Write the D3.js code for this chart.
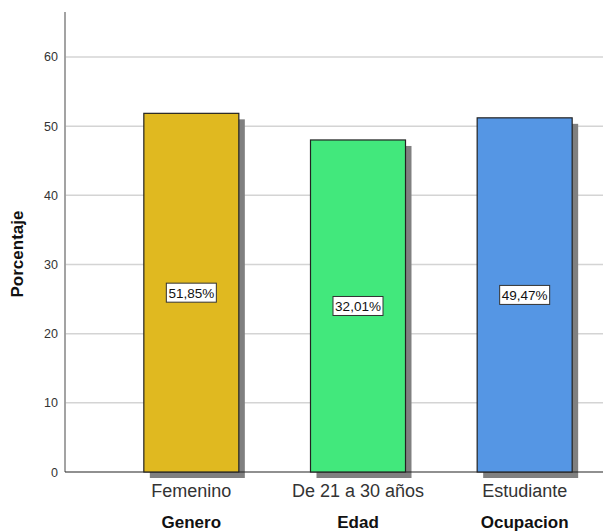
<!DOCTYPE html>
<html><head><meta charset="utf-8">
<script src="https://cdn.jsdelivr.net/npm/d3@7"></script>
<style>body{margin:0;background:#fff}svg{display:block}</style>
</head><body>
<script>
const categories = ["Femenino", "De 21 a 30 años", "Estudiante"];
const groups = ["Genero", "Edad", "Ocupacion"];
const values = [51.85, 48.0, 51.2];
const labels = ["51,85%", "32,01%", "49,47%"];
const colors = ["#e0b920", "#42e87c", "#5596e4"];
const yTicks = [0, 10, 20, 30, 40, 50, 60];

const FONT = "Arial, 'Liberation Sans', sans-serif";
const W = 603, H = 531;
const svg = d3.select("body").append("svg").attr("width", W).attr("height", H);
const x0 = 65, x1 = 603;
const y = d3.scaleLinear().domain([0, 66.5]).range([472, 12]);
const x = d3.scaleBand().domain(categories).range([108, 608]).paddingInner(0.43).paddingOuter(0.215);

// gridlines
svg.append("g").selectAll("line").data(yTicks.filter(d => d > 0)).join("line")
  .attr("x1", x0).attr("x2", x1).attr("y1", d => y(d)).attr("y2", d => y(d))
  .attr("stroke", "#d4d4d4").attr("stroke-width", 1.5);

// y axis
const yAxis = d3.axisLeft(y).tickValues(yTicks).tickSize(0).tickFormat(d3.format("d"));
const ga = svg.append("g").attr("transform", `translate(${x0},0)`).call(yAxis);
ga.select(".domain").remove();
ga.selectAll(".tick line").remove();
ga.selectAll(".tick text").attr("font-family", FONT)
  .attr("font-size", 12.5).attr("fill", "#333").attr("x", -7);
svg.append("line").attr("x1", x0).attr("x2", x0).attr("y1", y(66.5)).attr("y2", y(0))
  .attr("stroke", "#999").attr("stroke-width", 1.8);

// shadows
svg.append("g").selectAll("rect").data(categories).join("rect")
  .attr("x", d => x(d) + 6).attr("y", (d, i) => y(values[i]) + 6)
  .attr("width", x.bandwidth()).attr("height", (d, i) => y(0) - y(values[i]))
  .attr("fill", "#808080");

// baseline
svg.append("line").attr("x1", x0).attr("x2", x1).attr("y1", y(0)).attr("y2", y(0))
  .attr("stroke", "#222").attr("stroke-width", 1.2);

// bars
svg.append("g").selectAll("rect").data(categories).join("rect")
  .attr("x", d => x(d)).attr("y", (d, i) => y(values[i]))
  .attr("width", x.bandwidth()).attr("height", (d, i) => y(0) - y(values[i]))
  .attr("fill", (d, i) => colors[i]).attr("stroke", "#222").attr("stroke-width", 1.2);

// value labels
const lg = svg.append("g").selectAll("g").data(categories).join("g")
  .attr("transform", (d, i) => `translate(${x(d) + x.bandwidth() / 2},${y(values[i] / 2)})`);
lg.append("rect").attr("x", -25).attr("y", -9.5).attr("width", 50).attr("height", 19)
  .attr("fill", "#fff").attr("stroke", "#333").attr("stroke-width", 1);
lg.append("text").text((d, i) => labels[i]).attr("text-anchor", "middle").attr("dy", "0.36em")
  .attr("font-family", FONT).attr("font-size", 13.5).attr("fill", "#111");

// category labels
svg.append("g").selectAll("text").data(categories).join("text")
  .attr("x", d => x(d) + x.bandwidth() / 2).attr("y", 497)
  .attr("text-anchor", "middle").attr("font-family", FONT)
  .attr("font-size", 18).attr("fill", "#333").text(d => d);

// group labels
svg.append("g").selectAll("text").data(groups).join("text")
  .attr("x", (d, i) => x(categories[i]) + x.bandwidth() / 2).attr("y", 528)
  .attr("text-anchor", "middle").attr("font-family", FONT)
  .attr("font-size", 17).attr("font-weight", "bold").attr("fill", "#111").text(d => d);

// y title
svg.append("text").attr("transform", `translate(23,254) rotate(-90)`)
  .attr("text-anchor", "middle").attr("font-family", FONT)
  .attr("font-size", 17).attr("font-weight", "bold").attr("fill", "#111").text("Porcentaje");
</script>
</body></html>
